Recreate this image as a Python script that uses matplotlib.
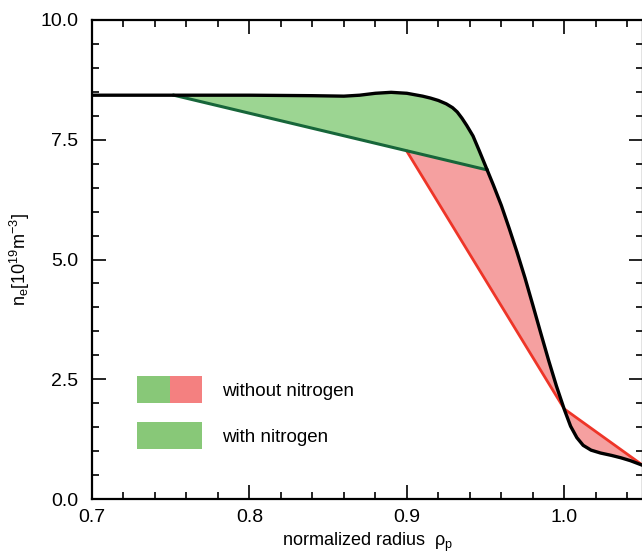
import matplotlib
matplotlib.use('Agg')
import matplotlib.pyplot as plt
import numpy as np
from matplotlib.patches import Rectangle
from matplotlib.ticker import MultipleLocator

plt.rcParams['font.family'] = ['Liberation Sans', 'DejaVu Sans']
plt.rcParams['mathtext.fontset'] = 'custom'
plt.rcParams['mathtext.rm'] = 'Liberation Sans'

# measured profile (black)
rho = [0.70, 0.75, 0.80, 0.84, 0.86, 0.87, 0.88, 0.89, 0.90, 0.91, 0.915,
       0.920, 0.925, 0.929, 0.932, 0.935, 0.938, 0.942, 0.946, 0.951, 0.955,
       0.960, 0.965, 0.970, 0.975, 0.980, 0.985, 0.990, 0.995, 1.000, 1.004,
       1.008, 1.012, 1.017, 1.023, 1.030, 1.036, 1.042, 1.050]
ne = [8.43, 8.43, 8.43, 8.42, 8.41, 8.43, 8.47, 8.49, 8.47, 8.41, 8.37,
      8.32, 8.25, 8.17, 8.08, 7.95, 7.80, 7.58, 7.27, 6.87, 6.55,
      6.13, 5.65, 5.15, 4.62, 4.05, 3.47, 2.90, 2.36, 1.87, 1.52,
      1.28, 1.12, 1.02, 0.96, 0.91, 0.86, 0.80, 0.70]

# linear fits
green_x = [0.752, 0.951]
green_y = [8.43, 6.87]
red_x = [0.90, 1.00, 1.050]
red_y = [7.26, 1.88, 0.70]

legend_labels = ['without nitrogen', 'with nitrogen']

c_green_fill = '#9cd592'
c_red_fill = '#f5a0a0'
c_green_line = '#17663a'
c_red_line = '#ee3528'
c_leg_green = '#88c878'
c_leg_red = '#f48080'

rho = np.array(rho)
ne = np.array(ne)

fig = plt.figure(figsize=(6.42, 5.59), dpi=100)
ax = fig.add_axes([92 / 642, 60 / 559, 551 / 642, 479 / 559])

# red area: red line below, black curve / green line above
m = (rho > green_x[1]) & (rho < red_x[-1])
red_px = list(red_x) + list(rho[m][::-1]) + [green_x[1]]
red_py = list(red_y) + list(ne[m][::-1]) + [green_y[1]]
ax.fill(red_px, red_py, color=c_red_fill, lw=0, zorder=1)

# green area between green line and black curve
m = (rho > green_x[0]) & (rho < green_x[1])
gr_px = [green_x[0]] + list(rho[m]) + [green_x[1]]
gr_py = [green_y[0]] + list(ne[m]) + [green_y[1]]
ax.fill(gr_px, gr_py, color=c_green_fill, lw=0, zorder=1)

ax.plot(red_x, red_y, color=c_red_line, lw=2, zorder=2)
ax.plot(green_x, green_y, color=c_green_line, lw=2.2, zorder=2)
ax.plot(rho, ne, color='black', lw=2.4, zorder=3, solid_joinstyle='round')

ax.set_xlim(0.7, 1.05)
ax.set_ylim(0, 10)
ax.set_xticks([0.7, 0.8, 0.9, 1.0])
ax.set_xticklabels(['0.7', '0.8', '0.9', '1.0'])
ax.set_yticks([0, 2.5, 5, 7.5, 10])
ax.set_yticklabels(['0.0', '2.5', '5.0', '7.5', '10.0'])
ax.xaxis.set_minor_locator(MultipleLocator(0.02))
ax.yaxis.set_minor_locator(MultipleLocator(0.5))
ax.tick_params(which='both', direction='in', top=True, right=True, width=1.2)
ax.tick_params(which='major', length=10, labelsize=14)
ax.tick_params(axis='y', which='major', pad=10)
ax.tick_params(axis='x', which='major', pad=7)
ax.tick_params(which='minor', length=5)
for s in ax.spines.values():
    s.set_linewidth(1.6)

ax.set_xlabel('normalized radius  ρ$_\\mathregular{p}$', fontsize=13, labelpad=4)
ax.set_ylabel(r'n$_\mathregular{e}$[10$^\mathregular{19}$m$^\mathregular{-3}$]', fontsize=13, labelpad=6)

# legend boxes
bw, bh = 0.118, 0.056
ax.add_patch(Rectangle((0.0817, 0.200), bw / 2, bh, transform=ax.transAxes, color=c_leg_green, lw=0))
ax.add_patch(Rectangle((0.0817 + bw / 2, 0.200), bw / 2, bh, transform=ax.transAxes, color=c_leg_red, lw=0))
ax.add_patch(Rectangle((0.0817, 0.104), bw, bh, transform=ax.transAxes, color=c_leg_green, lw=0))
ax.text(0.236, 0.224, legend_labels[0], transform=ax.transAxes, fontsize=13.5, va='center')
ax.text(0.236, 0.128, legend_labels[1], transform=ax.transAxes, fontsize=13.5, va='center')

fig.savefig('out.png', dpi=100)
